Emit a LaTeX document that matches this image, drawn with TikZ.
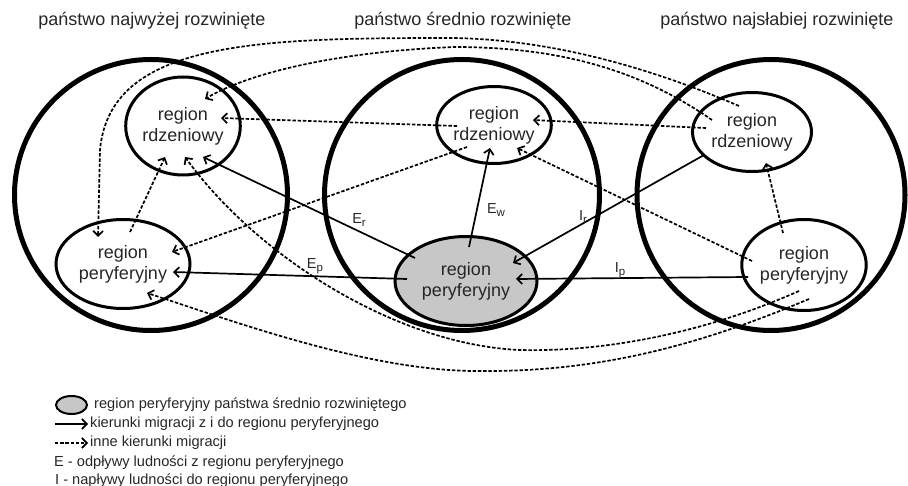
\documentclass[tikz,border=0pt]{standalone}
\usepackage{fontspec}
\setmainfont{Liberation Sans}
\usetikzlibrary{arrows.meta,calc,shapes.geometric}

\newcommand{\flowsub}[1]{\raisebox{-3pt}{\fontsize{11.5}{12}\selectfont #1}}

\tikzset{
  country/.style={ellipse, draw, line width=5pt, inner sep=0pt, outer sep=0pt},
  region/.style={ellipse, draw, line width=3pt, inner sep=0pt, outer sep=0pt,
    align=center, text=black!85, font=\fontsize{18}{21}\selectfont},
  flow/.style={line width=1.7pt, -{Straight Barb[length=5pt,width=10pt]}},
  other/.style={flow, dash pattern=on 3.4pt off 1.8pt},
  lbl/.style={inner sep=0pt, text=black!85, font=\fontsize{14.5}{17}\selectfont},
  statetitle/.style={inner sep=0pt, text=black!85, font=\fontsize{18}{21}\selectfont},
  legtext/.style={anchor=west, inner sep=0pt, text height=10pt, text depth=3pt,
    text=black!85, font=\fontsize{14.6}{17}\selectfont}
}

\begin{document}
\begin{tikzpicture}[x=1pt, y=-1pt]
  \useasboundingbox (0,0) rectangle (908,486);
  \clip (0,0) rectangle (908,486);

  % Titles
  \node[statetitle] (tleft) at (152,21) {państwo najwyżej rozwinięte};
  \node[statetitle] (tmid) at (463,21) {państwo średnio rozwinięte};
  \node[statetitle] (tright) at (777,21) {państwo najsłabiej rozwinięte};

  % Countries
  \node[country, minimum width=273pt, minimum height=271pt] (lstate) at (151,195) {};
  \node[country, minimum width=275pt, minimum height=271pt] (mstate) at (462,195) {};
  \node[country, minimum width=268pt, minimum height=271pt] (rstate) at (771,195) {};

  % Regions
  \node[region, minimum width=98pt, minimum height=98pt] (lcore) at (183,126) {region\\rdzeniowy};
  \node[region, minimum width=134pt, minimum height=89pt] (lper) at (123,264) {region\\peryferyjny};
  \node[region, minimum width=98pt, minimum height=77pt] (mcore) at (494,125) {region\\rdzeniowy};
  \node[region, fill=black!22, minimum width=142pt, minimum height=89pt] (mper) at (466,281) {region\\peryferyjny};
  \node[region, minimum width=119pt, minimum height=79pt] (rcore) at (752,132) {region\\rdzeniowy};
  \node[region, minimum width=119pt, minimum height=91pt] (rper) at (804,265) {region\\peryferyjny};

  % Flows from and to the peripheral region
  \draw[flow] ($(mper)+(-51,-23)$) -- ($(lcore)+(20,31)$);
  \draw[flow] ($(mper)+(-59,-2)$) -- ($(lper)+(50,8)$);
  \draw[flow] ($(mper)+(3,-34)$) -- ($(mcore)+(-4,23)$);
  \draw[flow] ($(rcore)+(-48,23)$) -- ($(mper)+(47,-18)$);
  \draw[flow] ($(rper)+(-56,12)$) -- ($(mper)+(50,-2)$);

  \node[lbl] (er) at (359,220) {E\flowsub{r}};
  \node[lbl] (ep) at (315,266) {E\flowsub{p}};
  \node[lbl] (ew) at (496,210) {E\flowsub{w}};
  \node[lbl] (ir) at (583,217) {I\flowsub{r}};
  \node[lbl] (ip) at (620,270) {I\flowsub{p}};

  % Other directions
  \draw[other] ($(lper)+(7,-32)$) -- ($(lcore)+(-18,31)$);
  \draw[other] ($(mcore)+(-37,1)$) -- ($(lcore)+(38,-8)$);
  \draw[other] ($(rcore)+(-46,-4)$) -- ($(mcore)+(39,-5)$);
  \draw[other] ($(rper)+(-21,-32)$) -- ($(rcore)+(14,31)$);
  \draw[other] ($(rper)+(-52,-4)$) -- ($(mcore)+(23,23)$);
  \draw[other] ($(mcore)+(-27,22)$) -- ($(lper)+(49,-12)$);

  \draw[other] ($(rcore)+(-13,-26)$) .. controls (660,72) and (560,40) .. (454,38)
    .. controls (260,38) and (110,40) .. (100,150) -- ($(lper)+(-25,-27)$);
  \draw[other] ($(rcore)+(-40,-12)$) .. controls (640,70) and (560,47) .. (454,47)
    .. controls (330,52) and (245,75) .. ($(lcore)+(22,-27)$);
  \draw[other] ($(rper)+(-5,26)$) .. controls (700,335) and (600,352) .. (520,350)
    .. controls (400,345) and (260,260) .. ($(lcore)+(2,31)$);
  \draw[other] ($(rper)+(5,34)$) .. controls (700,345) and (600,372) .. (480,371)
    .. controls (370,372) and (230,320) .. ($(lper)+(24,29)$);

  % Legend
  \node[region, fill=black!22, line width=2pt, minimum width=31pt, minimum height=18pt] (legreg) at (71.5,405) {};
  \node[legtext] (legregtxt) at (94,405) {region peryferyjny państwa średnio rozwiniętego};
  \coordinate (legflow) at (55,424);
  \node[legtext] (legflowtxt) at (90,424) {kierunki migracji z i do regionu peryferyjnego};
  \draw[flow] (legflow) -- ([xshift=-2pt]legflowtxt.west);
  \coordinate (legother) at (55,443);
  \node[legtext] (legothertxt) at (90,443) {inne kierunki migracji};
  \draw[other] (legother) -- ([xshift=-2pt]legothertxt.west);
  \node[legtext] (legout) at (54,463) {E - odpływy ludności z regionu peryferyjnego};
  \node[legtext] (legin) at (55,481) {I - napływy ludności do regionu peryferyjnego};
\end{tikzpicture}
\end{document}
